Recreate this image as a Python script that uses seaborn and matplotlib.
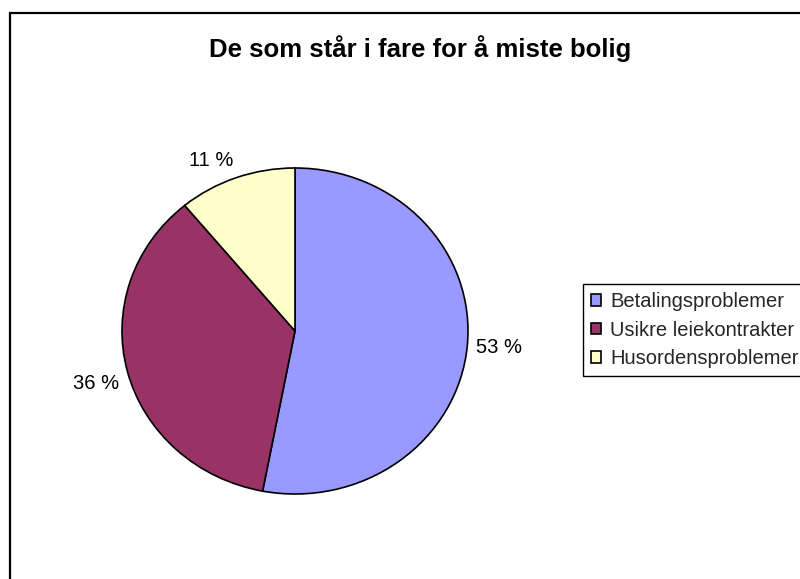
import numpy as np
import matplotlib
matplotlib.use("Agg")
import matplotlib.pyplot as plt
from matplotlib.patches import Rectangle
import seaborn as sns

# Share of people at risk of losing their home, by cause (percent)
categories = ["Betalingsproblemer", "Usikre leiekontrakter", "Husordensproblemer"]
shares = [53, 36, 11]
colors = ["#9999FF", "#993366", "#FFFFCC"]
title = "De som står i fare for å miste bolig"

sns.set_theme(style="white")
plt.rcParams["font.family"] = ["Liberation Sans", "DejaVu Sans"]

W, H = 800, 579
fig = plt.figure(figsize=(W / 100, H / 100), dpi=100)
fig.patch.set_facecolor("white")

# Pie area: centre (295, 331) px, slightly wider than tall
cx, cy, rx, ry = 295, 331, 173, 163
lim = 1.5
ax_w, ax_h = 2 * lim * rx, 2 * lim * ry
ax = fig.add_axes([(cx - ax_w / 2) / W, (H - cy - ax_h / 2) / H, ax_w / W, ax_h / H])

labels = [f"{v} %" for v in shares]
wedges, texts = ax.pie(
    shares,
    colors=colors,
    startangle=90,
    counterclock=False,
    labels=labels,
    labeldistance=1.05,
    wedgeprops=dict(edgecolor="black", linewidth=1.2),
    textprops=dict(fontsize=14.5, color="black"),
)
# Labels sit outside the rim: above for upper slices, below for lower ones
for w, t in zip(wedges, texts):
    mid = np.deg2rad((w.theta1 + w.theta2) / 2)
    s = np.sin(mid)
    t.set_va("bottom" if s > 0.6 else ("top" if s < -0.2 else "center"))
ax.set_aspect("auto")
ax.set_xlim(-lim, lim)
ax.set_ylim(-lim, lim)
ax.axis("off")

fig.text(420 / W, 1 - 49 / H, title, ha="center", va="center",
         fontsize=18.5, fontweight="bold", color="black")

leg = fig.legend(
    wedges, categories,
    loc="upper left",
    bbox_to_anchor=(583 / W, 1 - 284 / H),
    bbox_transform=fig.transFigure,
    borderaxespad=0,
    fontsize=14.5,
    frameon=True,
    fancybox=False,
    shadow=False,
    handlelength=0.5,
    handleheight=0.5,
    handletextpad=0.45,
    labelspacing=0.47,
    borderpad=0.4,
)
leg.get_frame().set_edgecolor("black")
leg.get_frame().set_linewidth(1.0)
leg.get_frame().set_alpha(1)

# Chart-area frame, open to the right and bottom edges
fig.patches.append(Rectangle((10 / W, -0.1), 1.2, 1.1 - 13 / H,
                             transform=fig.transFigure, fill=False,
                             edgecolor="black", linewidth=1.6))

fig.savefig("out.png", dpi=100, facecolor="white")
